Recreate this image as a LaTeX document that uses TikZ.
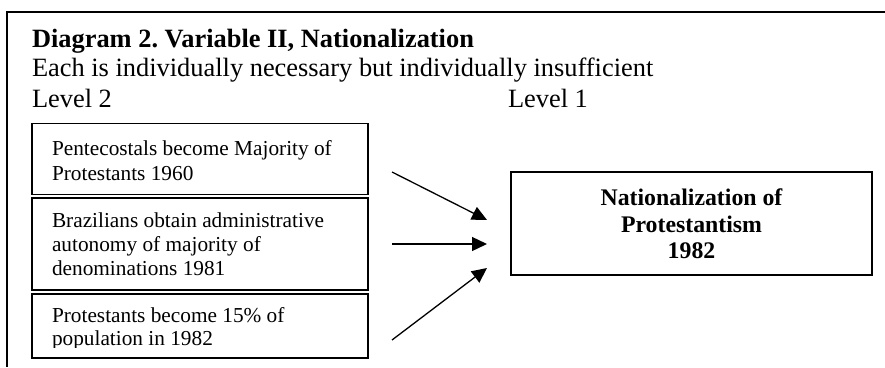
\documentclass[tikz,border=0pt]{standalone}
\usepackage{fontspec}
\setmainfont{Liberation Serif}
\frenchspacing
\usetikzlibrary{arrows.meta}
\tikzset{
  txt/.style={inner sep=0pt, outer sep=0pt, anchor=base west},
  bigtxt/.style={txt, font=\fontsize{26.4}{30}\selectfont},
  boxtxt/.style={txt, font=\fontsize{21.3}{25}\selectfont},
  resbox/.style={inner sep=0pt, font=\fontsize{23.8}{26.5}\selectfont\bfseries, anchor=base},
  frame/.style={line width=2pt},
  causebox/.style={draw, line width=1.4pt, inner sep=0pt, minimum width=336pt},
  effbox/.style={draw, line width=1.4pt, inner sep=0pt, minimum width=361pt, minimum height=103pt},
  arr/.style={line width=1.3pt, -{Triangle[length=15pt,width=14pt]}}
}
\begin{document}
\begin{tikzpicture}[x=1pt,y=-1pt]
\useasboundingbox (0,0) rectangle (885,367);
% frame
\coordinate (fr1) at (885,12);
\coordinate (fr2) at (7,12);
\coordinate (fr3) at (7,367);
\draw[frame] (fr1) -- (fr2) -- (fr3);
% header texts
\node[bigtxt, font=\fontsize{26.4}{30}\selectfont\bfseries] (title) at (32,47) {Diagram 2. Variable II, Nationalization};
\node[bigtxt] (sub) at (32,76) {Each is individually necessary but individually insufficient};
\node[bigtxt] (lv2) at (32,107) {Level 2};
\node[bigtxt] (lv1) at (508,107) {Level 1};
% cause boxes
\node[causebox, minimum height=71pt] (b1) at (200,159) {};
\node[causebox, minimum height=92pt] (b2) at (200,244) {};
\node[causebox, minimum height=64pt] (b3) at (200,326) {};
\node[boxtxt] (t1a) at (52,155) {Pentecostals become Majority of};
\node[boxtxt] (t1b) at (52,180) {Protestants 1960};
\node[boxtxt] (t2a) at (52,227) {Brazilians obtain administrative};
\node[boxtxt] (t2b) at (52,251) {autonomy of majority of};
\node[boxtxt] (t2c) at (52,275) {denominations 1981};
\node[boxtxt] (t3a) at (52,322) {Protestants become 15\% of};
\begin{scope}
\clip (32,293) rectangle (368,347.5);
\node[boxtxt] (t3b) at (52,345) {population in 1982};
\end{scope}
% effect box
\node[effbox] (eff) at (691.5,223.5) {};
\node[resbox] (e1) at (691.5,205) {Nationalization of};
\node[resbox] (e2) at (691.5,232) {Protestantism};
\node[resbox] (e3) at (691.5,258) {1982};
% arrows
\coordinate (s1) at (392,172);
\coordinate (s2) at (392,244);
\coordinate (s3) at (392,340);
\coordinate (h1) at (487,220);
\coordinate (h2) at (487,244);
\coordinate (h3) at (487,268);
\draw[arr] (s1) -- (h1);
\draw[arr] (s2) -- (h2);
\draw[arr] (s3) -- (h3);
\end{tikzpicture}
\end{document}
